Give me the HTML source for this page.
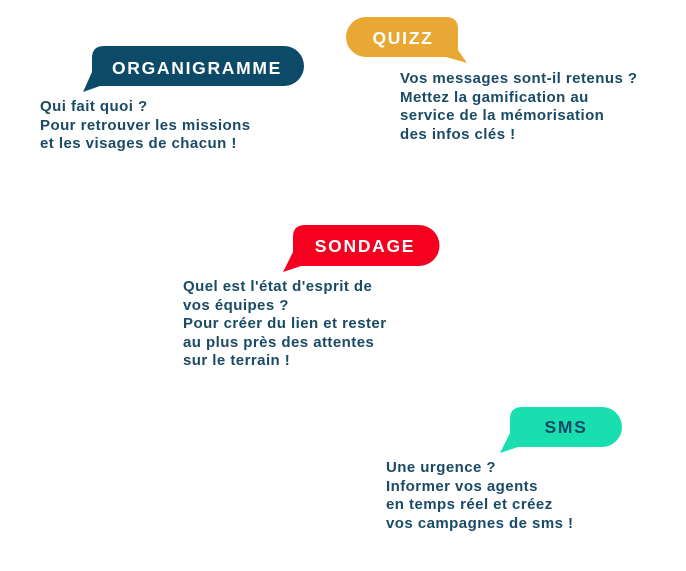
<!DOCTYPE html>
<html><head><meta charset="utf-8"><style>
html,body{margin:0;padding:0;background:#fff;width:686px;height:571px;overflow:hidden}
svg{position:absolute;left:0;top:0}
.t{position:absolute;font-family:"Liberation Sans",sans-serif;font-weight:bold;font-size:15px;line-height:18.5px;color:#1b4a66;white-space:nowrap;letter-spacing:0.45px}
</style></head><body>
<svg width="686" height="571" viewBox="0 0 686 571">
<path d="M104,46 H284 A20,20 0 0 1 284,86 H100 L83,92 L92,72 V58 Q92,46 104,46 Z" fill="#0d4a68"/>
<path d="M366,17 H446 Q458,17 458,29 V50 L467,63 L446,57 H366 A20,20 0 0 1 366,17 Z" fill="#e9a834"/>
<path d="M305,225 H419 A20.5,20.5 0 0 1 419,266 H301 L283,272 L293,252 V237 Q293,225 305,225 Z" fill="#f5001e"/>
<path d="M522,407 H602 A20,20 0 0 1 602,447 H518 L500,453 L510,433 V419 Q510,407 522,407 Z" fill="#19deb0"/>
<g font-family="Liberation Sans, sans-serif" font-weight="bold" font-size="17.5" letter-spacing="1.7" text-anchor="middle">
<text x="197" y="74" fill="#fff">ORGANIGRAMME</text>
<text x="403" y="44" fill="#fff">QUIZZ</text>
<text x="365" y="252" fill="#fff">SONDAGE</text>
<text x="566" y="433" fill="#0d4a68">SMS</text>
</g>
</svg>
<div class="t" style="left:40px;top:98px">Qui fait quoi ?<br>Pour retrouver les missions<br>et les visages de chacun !</div>
<div class="t" style="left:400px;top:70px">Vos messages sont-il retenus ?<br>Mettez la gamification au<br>service de la mémorisation<br>des infos clés !</div>
<div class="t" style="left:183px;top:278px">Quel est l'état d'esprit de<br>vos équipes ?<br>Pour créer du lien et rester<br>au plus près des attentes<br>sur le terrain !</div>
<div class="t" style="left:386px;top:459px">Une urgence ?<br>Informer vos agents<br>en temps réel et créez<br>vos campagnes de sms !</div>
</body></html>
